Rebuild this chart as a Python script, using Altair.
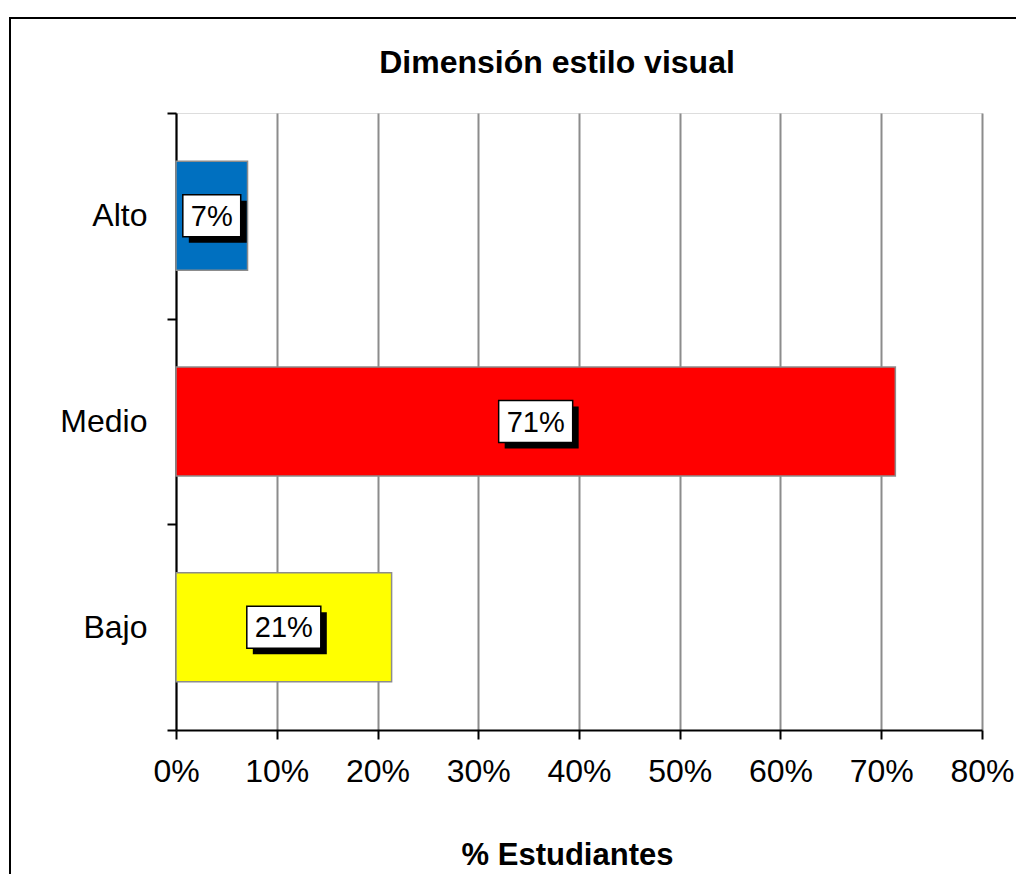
import altair as alt
import pandas as pd

categories = ["Alto", "Medio", "Bajo"]
values = [0.071, 0.714, 0.214]
colors = ["#0070C0", "#FF0000", "#FFFF00"]
x_ticks = [0, 0.1, 0.2, 0.3, 0.4, 0.5, 0.6, 0.7, 0.8]
title_text = "Dimensión estilo visual"

df = pd.DataFrame({"cat": categories, "value": values})

FONT = "Liberation Sans"

y_enc = alt.Y(
    "cat:N",
    sort=categories,
    scale=alt.Scale(paddingInner=0, paddingOuter=0),
    axis=alt.Axis(
        title=None, domainColor="black", domainWidth=2, tickColor="black",
        tickWidth=2, tickSize=9, tickBand="extent", labelFontSize=32,
        labelFont=FONT, labelColor="black", labelPadding=20, grid=False,
    ),
)

x_enc = alt.X(
    "value:Q",
    scale=alt.Scale(domain=[0, 0.8], nice=False),
    axis=alt.Axis(
        values=x_ticks, format=".0%", title="%  Estudiantes",
        titleFont=FONT, titleFontSize=31, titleFontWeight="bold", titleColor="black",
        titleX=391, titleY=125, titleBaseline="middle",
        domainColor="black", domainWidth=2, tickColor="black", tickWidth=2,
        tickSize=9, labelFont=FONT, labelFontSize=32, labelColor="black",
        labelPadding=17, labelFlush=False, labelOverlap=False,
        grid=True, gridColor="#8c8c8c", gridWidth=2,
    ),
)

bars = alt.Chart(df).mark_bar(
    stroke="#8c8c8c", strokeWidth=1.5, height=alt.RelativeBandSize(0.53)
).encode(
    x=x_enc,
    y=y_enc,
    color=alt.Color("cat:N", scale=alt.Scale(domain=categories, range=colors), legend=None),
)

base_lbl = alt.Chart(df).transform_calculate(
    mid="datum.value / 2",
    label="format(datum.value, '.0%')",
).transform_calculate(
    w="(length(datum.label) - 1) * 16.1 + 25.8 + 16",
).transform_calculate(
    path="'M' + (-datum.w/42) + ',-1L' + (datum.w/42) + ',-1L' + (datum.w/42) + ',1L' + (-datum.w/42) + ',1Z'",
)

shadow = base_lbl.mark_point(
    filled=True, fill="black", opacity=1, strokeOpacity=0, size=1764, xOffset=6, yOffset=6
).encode(
    x="mid:Q", y=alt.Y("cat:N", sort=categories), shape=alt.Shape("path:N", scale=None)
)

box = base_lbl.mark_point(
    filled=True, fill="white", stroke="black", strokeWidth=1.5, opacity=1, size=1764
).encode(
    x="mid:Q", y=alt.Y("cat:N", sort=categories), shape=alt.Shape("path:N", scale=None)
)

text = base_lbl.mark_text(
    font=FONT, fontSize=29, color="black", baseline="middle", align="center", dy=1
).encode(
    x="mid:Q", y=alt.Y("cat:N", sort=categories), text="label:N"
)

border = alt.Chart(df).mark_rect(fill=None, stroke="black", strokeWidth=2).encode(
    x=alt.value(-166), x2=alt.value(900), y=alt.value(-95), y2=alt.value(800)
).transform_filter("datum.cat == 'Alto'")

title = alt.Chart(df).mark_text(
    text=title_text, font=FONT, fontSize=32, fontWeight="bold", color="black",
    align="center", baseline="alphabetic",
).encode(
    x=alt.value(381), y=alt.value(-40)
).transform_filter("datum.cat == 'Alto'")

chart = alt.layer(border, bars, shadow, box, text, title).properties(
    width=806,
    height=617,
    autosize=alt.AutoSizeParams(type="none"),
    padding={"left": 168, "top": 105, "right": 34, "bottom": 144},
).configure_view(stroke="#8c8c8c", strokeWidth=2).configure(background="white")

chart.save("out.html", embed_options={"renderer": "svg", "actions": False})
